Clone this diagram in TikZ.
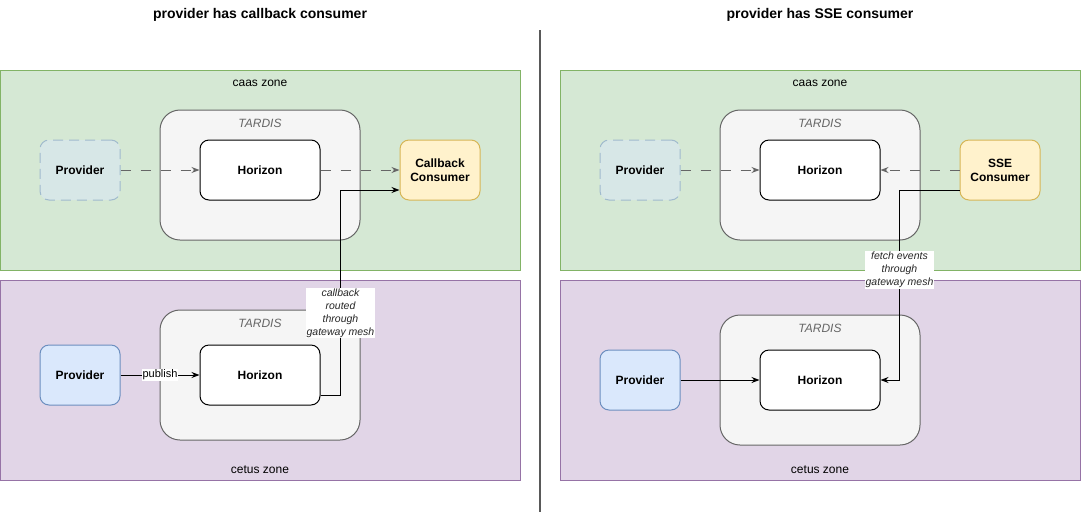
\documentclass[tikz,border=0pt]{standalone}
\usepackage{fontspec}
\setmainfont{Liberation Sans}
\usetikzlibrary{arrows.meta}

\definecolor{caasfill}{RGB}{213, 232, 212}
\definecolor{caasline}{RGB}{130, 179, 102}
\definecolor{cetusfill}{RGB}{225, 213, 231}
\definecolor{cetusline}{RGB}{150, 115, 166}
\definecolor{tardisfill}{RGB}{245, 245, 245}
\definecolor{tardisline}{RGB}{102, 102, 102}
\definecolor{provfill}{RGB}{218, 232, 252}
\definecolor{provline}{RGB}{108, 142, 191}
\definecolor{ghostfill}{RGB}{215, 231, 231}
\definecolor{ghostline}{RGB}{160, 186, 205}
\definecolor{consfill}{RGB}{255, 242, 204}
\definecolor{consline}{RGB}{214, 182, 86}

\tikzset{
  zone/.style={draw, line width=1pt, minimum width=520pt, minimum height=200pt, inner sep=0pt},
  tardis/.style={draw=tardisline, fill=tardisfill, line width=1pt, rounded corners=20pt,
    minimum width=200pt, minimum height=130pt, inner sep=0pt},
  tardislabel/.style={text=tardisline, font=\fontsize{12}{14}\selectfont\itshape},
  box/.style={draw, line width=1pt, rounded corners=9pt, minimum width=80pt,
    minimum height=60pt, inner sep=0pt, align=center},
  horizon/.style={box, fill=white, minimum width=120pt},
  title/.style={font=\fontsize{14}{16}\selectfont\bfseries},
  flow/.style={-{Stealth[length=8pt, width=6pt]}, line width=1pt},
  ghostflow/.style={flow, draw=tardisline, dash pattern=on 10pt off 10pt},
  edgelabel/.style={fill=white, inner sep=1pt, align=center, text=black!85,
    font=\fontsize{10.5}{13}\selectfont\itshape}
}

\begin{document}
\begin{tikzpicture}[x=1pt, y=-1pt, font=\fontsize{12}{14}\selectfont]
  \useasboundingbox (0, 0) rectangle (1081, 515);
  % titles and separator
  \node[title] (titleL) at (260, 15) {provider has callback consumer};
  \node[title] (titleR) at (820, 15) {provider has SSE consumer};
  \coordinate (sepTop) at (540, 30);
  \coordinate (sepBot) at (540, 512);
  \draw[line width=2pt, black!65] (sepTop) -- (sepBot);
  % zones, TARDIS boxes, providers and Horizon
  \foreach \s/\x/\dy in {L/0/0, R/560/5} {
    \node[zone, fill=caasfill, draw=caasline] (caas\s) at ({\x+260}, 170) {};
    \node (caasLabel\s) at ({\x+260}, 83) {caas zone};
    \node[zone, fill=cetusfill, draw=cetusline] (cetus\s) at ({\x+260}, 380) {};
    \node (cetusLabel\s) at ({\x+260}, 470) {cetus zone};
    \node[tardis] (tardisTop\s) at ({\x+260}, 175) {};
    \node[tardislabel] (tardisTopLabel\s) at ({\x+260}, 123) {TARDIS};
    \node[tardis] (tardisLow\s) at ({\x+260}, {375+\dy}) {};
    \node[tardislabel] (tardisLowLabel\s) at ({\x+260}, {323+\dy}) {TARDIS};
    \node[box, fill=ghostfill, draw=ghostline, dash pattern=on 10pt off 6pt]
      (provTop\s) at ({\x+80}, 170) {\textbf{Provider}};
    \node[horizon] (horTop\s) at ({\x+260}, 170) {\textbf{Horizon}};
    \node[box, fill=provfill, draw=provline] (provLow\s) at ({\x+80}, {375+\dy}) {\textbf{Provider}};
    \node[horizon] (horLow\s) at ({\x+260}, {375+\dy}) {\textbf{Horizon}};
    \draw[ghostflow] (provTop\s) -- (horTop\s);
  }
  % consumers
  \node[box, fill=consfill, draw=consline] (consL) at (440, 170) {\textbf{Callback}\\\textbf{Consumer}};
  \node[box, fill=consfill, draw=consline] (consR) at (1000, 170) {\textbf{SSE}\\\textbf{Consumer}};
  % left: callback
  \draw[ghostflow] (horTopL) -- (consL);
  \draw[flow] (provLowL) -- (horLowL)
    node[midway, fill=white, inner sep=0.5pt, font=\fontsize{11}{13}\selectfont] (publish) {publish};
  \draw[flow] ([yshift=-20pt]horLowL.east) -- ++(20, 0) |- ([yshift=-20pt]consL.west)
    node[edgelabel, pos=0.2] (routeL) {callback\\routed\\through\\gateway mesh};
  % right: SSE
  \draw[ghostflow] (consR) -- (horTopR);
  \draw[flow] (provLowR) -- (horLowR);
  \draw[flow] ([yshift=-20pt]consR.west) -- ++(-60, 0) |- (horLowR.east)
    node[edgelabel, pos=0.21] (routeR) {fetch events\\through\\gateway mesh};
\end{tikzpicture}
\end{document}
